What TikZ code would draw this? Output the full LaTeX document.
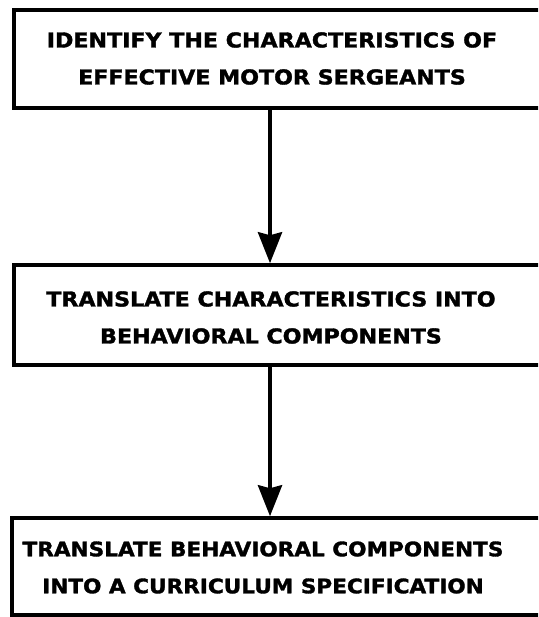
\documentclass[tikz,border=0pt]{standalone}
\usepackage{fontspec}
\newfontfamily\stagefont{DejaVu Sans}[FakeStretch=1.08,FakeBold=1.6]
\usetikzlibrary{arrows.meta}

\begin{document}
\begin{tikzpicture}[x=1pt,y=-1pt,
    stage/.style={draw, line width=3.5pt, anchor=west, minimum width=600pt, inner sep=0pt},
    caption/.style={align=center, inner sep=0pt, font=\stagefont\bfseries\fontsize{20.5}{37}\selectfont},
    flow/.style={line width=4pt, -{Stealth[length=31pt, width=24pt, inset=3pt]}}]
            \useasboundingbox (0,0) rectangle (538,617);
            \clip (0,0) rectangle (538,617);
            \node at (12,59) [stage, minimum height=98pt] (ident) {};
            \node at (12,315) [stage, minimum height=100pt] (trans) {};
            \node at (10,566.5) [stage, minimum height=97pt] (spec) {};
            \node at (272,58.5) [caption] (identtxt) {IDENTIFY THE CHARACTERISTICS OF\\EFFECTIVE MOTOR SERGEANTS};
            \node at (271,317.5) [caption] (transtxt) {TRANSLATE CHARACTERISTICS INTO\\BEHAVIORAL COMPONENTS};
            \node at (263,567.5) [caption, font=\stagefont\bfseries\fontsize{20}{37}\selectfont] (spectxt) {TRANSLATE BEHAVIORAL COMPONENTS\\INTO A CURRICULUM SPECIFICATION};
            \draw[flow] (270,0 |- ident.south) -- (270,0 |- trans.north);
            \draw[flow] (270,0 |- trans.south) -- (270,0 |- spec.north);
    \end{tikzpicture}
\end{document}
